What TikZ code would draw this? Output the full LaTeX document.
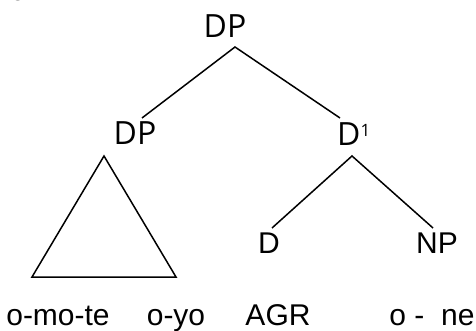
\documentclass[tikz,border=0pt]{standalone}
\usepackage{fontspec}
\setmainfont{Liberation Sans}
\newfontfamily\labfont{Open Sans}
\begin{document}
\begin{tikzpicture}[x=1pt,y=-1pt,
  lab/.style={font=\labfont\fontsize{32}{32}\selectfont, inner sep=0pt},
  leaf/.style={font=\fontsize{30}{30}\selectfont, inner sep=0pt},
  word/.style={font=\fontsize{30}{30}\selectfont, inner sep=0pt, anchor=base},
  branch/.style={line width=1.5pt}]
\useasboundingbox (0,0) rectangle (476,331);
% top-left clipped fragment
\node[word, anchor=base west] (num) at (9,1) {6.};
% labels
\node[lab] (dpTop) at (225,26) {DP};
\node[lab] (dpMid) at (135,133) {DP};
\node[lab, anchor=west] (dbar) at (337,134) {D\textsuperscript{\fontsize{17}{17}\selectfont 1}};
\node[leaf] (d) at (269,243) {D};
\node[leaf] (np) at (437,243) {NP};
% branch points
\coordinate (a1) at (235,47);
\coordinate (l1) at (142,118);
\coordinate (r1) at (340,118);
\coordinate (a2) at (104,156);
\coordinate (bl) at (32,277);
\coordinate (br) at (176,277);
\coordinate (a3) at (352,156);
\coordinate (l3) at (272,228);
\coordinate (r3) at (433,228);
\draw[branch] (l1) -- (a1) -- (r1);
\draw[branch] (a2) -- (bl) -- (br) -- cycle;
\draw[branch] (l3) -- (a3) -- (r3);
% words
\node[word] (w1) at (58,325) {o-mo-te};
\node[word] (w2) at (176,325) {o-yo};
\node[word] (w3) at (278,325) {AGR};
\node[word] (w4) at (432,325) {o -\ \ ne};
\end{tikzpicture}
\end{document}
